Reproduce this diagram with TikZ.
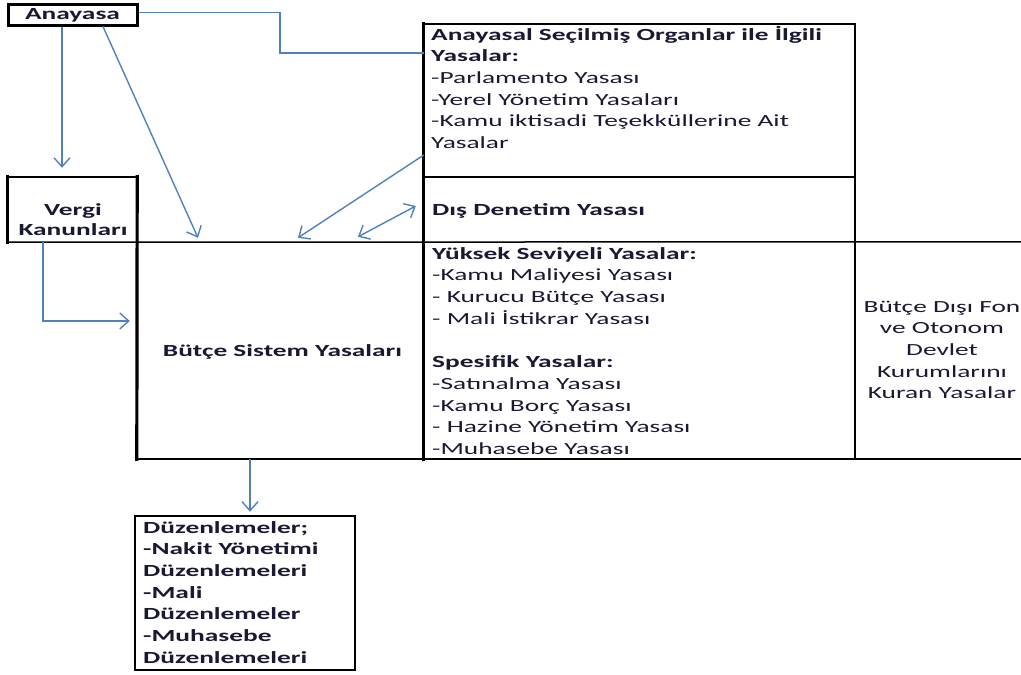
\documentclass[tikz,border=0pt]{standalone}
\usepackage{fontspec}
\setmainfont{Carlito}[FakeStretch=1.61]
\usetikzlibrary{arrows.meta,fit}
\definecolor{linkblue}{RGB}{79,129,189}
\definecolor{ink}{RGB}{25,25,50}
\begin{document}
\begin{tikzpicture}[x=1pt,y=-1pt,
  txt/.style={font=\fontsize{17}{21.7}\selectfont, text=ink, inner sep=0pt},
  txtb/.style={font=\fontsize{17}{21.7}\selectfont\bfseries, text=ink, inner sep=0pt},
  cell/.style={inner sep=0pt},
  rulethick/.style={line width=3.2pt, line cap=rect},
  rulemid/.style={line width=2pt, line cap=rect},
  rulethin/.style={line width=1.5pt},
  link/.style={draw=linkblue, line width=1.4pt},
  tip/.style={-{Straight Barb[length=9pt,width=16pt]}},
  tips/.style={{Straight Barb[length=9pt,width=16pt]}-{Straight Barb[length=9pt,width=16pt]}}
]
\useasboundingbox (0,0) rectangle (1021,675);

% cells of the law table
\node[cell, draw, line width=3pt, fit={(8,4) (137,25)}] (anayasa) {};
\node[cell, fit={(8,177) (137,242)}] (vergi) {};
\node[cell, fit={(137,242) (424,459)}] (butce) {};
\node[cell, fit={(424,24) (855,177)}] (anayasal) {};
\node[cell, fit={(424,177) (855,242)}] (disden) {};
\node[cell, fit={(424,242) (855,459)}] (yuksek) {};
\node[cell, fit={(855,242) (1021,459)}] (disifon) {};
\node[cell, draw, line width=2.6pt, fit={(135,516) (355,670)}] (duzen) {};

% table rules
\draw[rulethin] (vergi.south west) -- (disifon.north east);
\draw[rulemid] (butce.south west) -- (disifon.south east);
\draw[rulemid] (anayasal.north west) -- (anayasal.north east);
\draw[rulethin] (anayasal.south west) -- (anayasal.south east);
\draw[rulemid] (vergi.north west) -- (vergi.north east);
\draw[rulethick] (vergi.north west) -- (vergi.south west);
\draw[rulethick] (vergi.north east) -- (butce.south west);
\draw[rulethick] (anayasal.north west) -- (yuksek.south west);
\draw[rulemid] (anayasal.north east) -- (yuksek.south east);

% cell texts
\node[txtb, anchor=base] (tanayasa) at (72.5,19.5) {Anayasa};
\node[txtb, anchor=base] (tbutce) at (282.5,356) {Bütçe Sistem Yasaları};
\node[txtb, align=center, anchor=north, font=\fontsize{17}{20}\selectfont\bfseries] (tvergi) at (73,201) {\strut Vergi\\Kanunları};
\node[txt, align=left, anchor=north west] (tanayasal) at (431,24.8) {\strut\textbf{Anayasal Seçilmiş Organlar ile İlgili}\\
  \textbf{Yasalar:}\\
  -Parlamento Yasası\\
  -Yerel Yönetim Yasaları\\
  -Kamu iktisadi Teşekküllerine Ait\\
  Yasalar};
\node[txtb, anchor=base west] (tdisden) at (432,215) {Dış Denetim Yasası};
\node[txt, align=left, anchor=north west] (tyuksek) at (432,243.8) {\strut\textbf{Yüksek Seviyeli Yasalar:}\\
  -Kamu Maliyesi Yasası\\
  - Kurucu Bütçe Yasası\\
  - Mali İstikrar Yasası\\[21.7pt]
  \textbf{Spesifik Yasalar:}\\
  -Satınalma Yasası\\
  -Kamu Borç Yasası\\
  - Hazine Yönetim Yasası\\
  -Muhasebe Yasası};
\node[txt, align=center, anchor=north] (tfon) at (942,296.8) {\strut Bütçe Dışı Fon\\ve Otonom\\Devlet\\Kurumlarını\\Kuran Yasalar};
\node[txtb, align=left, anchor=north west] (tduzen) at (143,517.8) {\strut Düzenlemeler;\\
  -Nakit Yönetimi\\
  Düzenlemeleri\\
  -Mali\\
  Düzenlemeler\\
  -Muhasebe\\
  Düzenlemeleri};

% connectors
\coordinate (bend) at (280,53);
\draw[link] ([yshift=2pt]anayasa.east) -| (bend) -- (bend -| anayasal.west);
\draw[link, tip] ([xshift=-10.5pt]anayasa.south) -- ([xshift=-10.5pt, yshift=9pt]vergi.north);
\draw[link, tip] ([xshift=30.5pt]anayasa.south) -- ([xshift=-82.5pt, yshift=4pt]butce.north);
\draw[link, tip] ([yshift=-54.5pt]anayasal.west) -- ([xshift=17.5pt, yshift=4pt]butce.north);
\draw[link, tips] ([xshift=77.5pt, yshift=5pt]butce.north) -- ([xshift=-8pt, yshift=3.5pt]disden.west);
\draw[link, tip] ([xshift=-29.5pt]vergi.south) |- ([xshift=-7pt, yshift=29.5pt]butce.west);
\draw[link, tip] ([xshift=-30.5pt]butce.south) -- ([xshift=5pt, yshift=3pt]duzen.north);
\end{tikzpicture}
\end{document}
